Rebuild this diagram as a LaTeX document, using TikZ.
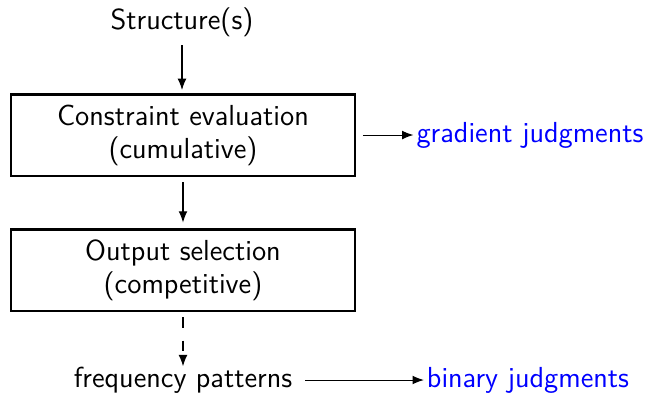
\documentclass[tikz,border=0pt]{standalone}
\usepackage{xcolor}
\usepackage{tikz}
\usetikzlibrary{arrows.meta, positioning}
\renewcommand{\familydefault}{\sfdefault}

\begin{document}
\begin{tikzpicture}[x=0.39pt, y=-0.39pt, font=\sffamily\fontsize{11.3}{12.9}\selectfont,
    stagebox/.style={draw, thick, align=center, minimum width=134pt, minimum height=31.6pt, inner sep=0pt},
    judg/.style={text=blue, inner sep=1pt},
    flow/.style={-{Latex[length=4.4pt,width=3.4pt]}}]
        \useasboundingbox (0,0) rectangle (649,394);
        % input and the two stages
        \node (struct) at (182,22) {Structure(s)};
        \node[stagebox] (evalbox) at (183,135) {Constraint evaluation\\(cumulative)};
        \node[stagebox] (selbox) at (183,270) {Output selection\\(competitive)};
        \node (freq) at (183,380) {frequency patterns};
        % outputs on the right
        \node[judg] (grad) at (530,135) {gradient judgments};
        \node[judg] (bin) at (528,380) {binary judgments};
        
        \coordinate (a1) at (182,45);
        \coordinate (a2) at (182,90);
        \draw[flow] (a1) -- (a2);
        \draw[flow] ([yshift=-2.3pt]evalbox.south) -- ([yshift=2.3pt]selbox.north);
        \draw[flow, dash pattern=on 4pt off 5pt] ([yshift=-2.3pt]selbox.south) -- ([yshift=-3.3pt]freq.north);
        \draw[flow] ([xshift=2.7pt]evalbox.east) -- (grad.west);
        \draw[flow] ([xshift=1.5pt]freq.east) -- (bin.west);
    \end{tikzpicture}
\end{document}
